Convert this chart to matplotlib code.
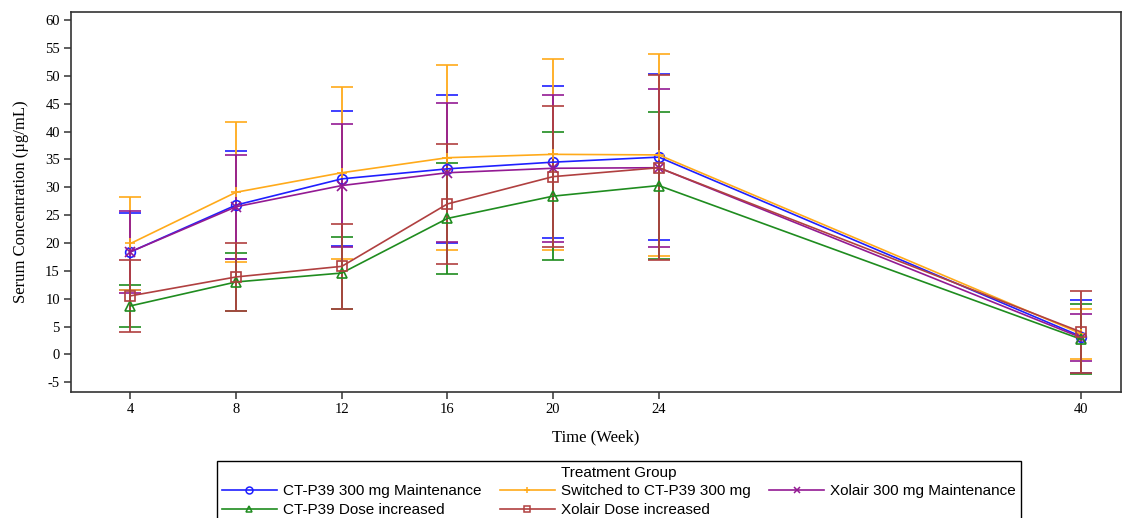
import matplotlib
matplotlib.use("Agg")
import matplotlib.pyplot as plt
from matplotlib.lines import Line2D

# visits (week) and mean +/- SD serum concentration per treatment group
weeks = [4, 8, 12, 16, 20, 24, 40]

ctp39_maint = [18.4, 26.8, 31.5, 33.3, 34.5, 35.4, 3.2]
ctp39_maint_sd = [6.9, 9.7, 12.1, 13.3, 13.7, 14.9, 6.6]

switched = [19.9, 29.1, 32.6, 35.3, 35.9, 35.8, 3.7]
switched_sd = [8.3, 12.6, 15.4, 16.6, 17.2, 18.1, 4.5]

xolair_maint = [18.4, 26.5, 30.3, 32.6, 33.4, 33.5, 3.0]
xolair_maint_sd = [7.3, 9.3, 11.0, 12.5, 13.2, 14.2, 4.2]

ctp39_dose = [8.7, 13.0, 14.6, 24.4, 28.4, 30.3, 2.7]
ctp39_dose_sd = [3.7, 5.2, 6.4, 10.0, 11.5, 13.2, 6.3]

xolair_dose = [10.5, 13.9, 15.8, 27.0, 31.9, 33.5, 4.0]
xolair_dose_sd = [6.5, 6.1, 7.6, 10.8, 12.6, 16.6, 7.3]

y_ticks = list(range(-5, 61, 5))

groups = [
    ("CT-P39 300 mg Maintenance", ctp39_maint, ctp39_maint_sd, "#1f1fff", "o"),
    ("Switched to CT-P39 300 mg", switched, switched_sd, "#ffaa1a", "+"),
    ("Xolair 300 mg Maintenance", xolair_maint, xolair_maint_sd, "#931a93", "x"),
    ("CT-P39 Dose increased", ctp39_dose, ctp39_dose_sd, "#1f8c1f", "^"),
    ("Xolair Dose increased", xolair_dose, xolair_dose_sd, "#b04040", "s"),
]

serif = "Liberation Serif"
sans = "Liberation Sans"

fig = plt.figure(figsize=(11.33, 5.18), dpi=100)
ax = fig.add_axes([0.0627, 0.2438, 0.9267, 0.7336])

handles = {}
for name, mean, sd, col, mk in groups:
    ax.errorbar(weeks, mean, yerr=sd, color=col, lw=1.2, elinewidth=1.3,
                capsize=8, capthick=1.3, marker=mk, markersize=7,
                markerfacecolor="none", markeredgecolor=col,
                markeredgewidth=1.2)
    # plain line + marker for the legend key (no error bar glyph)
    handles[name] = Line2D([], [], color=col, lw=1.2, marker=mk, markersize=5,
                           markerfacecolor="none", markeredgecolor=col,
                           markeredgewidth=1.1)

ax.set_xlim(1.75, 41.5)
ax.set_ylim(-6.7, 61.5)
ax.set_xticks(weeks)
ax.set_yticks(y_ticks)
ax.set_xticklabels([str(w) for w in weeks], family=serif, fontsize=10.5)
ax.set_yticklabels([str(v) for v in y_ticks], family=serif, fontsize=10.5)
ax.tick_params(direction="out", length=5, width=1.1, color="#333333", pad=3)

for sp in ax.spines.values():
    sp.set_color("#333333")
    sp.set_linewidth(1.2)

ax.set_xlabel("Time (Week)", family=serif, fontsize=12)
ax.set_ylabel("Serum Concentration (\u00b5g/mL)", family=serif, fontsize=12)
ax.xaxis.set_label_coords(0.5, -0.10)
ax.yaxis.set_label_coords(-0.040, 0.5)

# legend is filled column-wise, so order the entries to read row by row
order = ["CT-P39 300 mg Maintenance", "CT-P39 Dose increased",
         "Switched to CT-P39 300 mg", "Xolair Dose increased",
         "Xolair 300 mg Maintenance"]
leg = fig.legend([handles[n] for n in order], order, loc="upper center",
                 bbox_to_anchor=(619 / 1133, 1 - 461 / 518), ncol=3,
                 title="Treatment Group", fancybox=False, framealpha=1,
                 edgecolor="black", borderaxespad=0, handlelength=3.6,
                 handletextpad=0.4, columnspacing=1.2, labelspacing=0.32,
                 borderpad=0.3,
                 prop={"family": sans, "size": 11},
                 title_fontproperties={"family": sans, "size": 11})
leg.get_frame().set_linewidth(1.0)

fig.savefig("out.png", dpi=100)
